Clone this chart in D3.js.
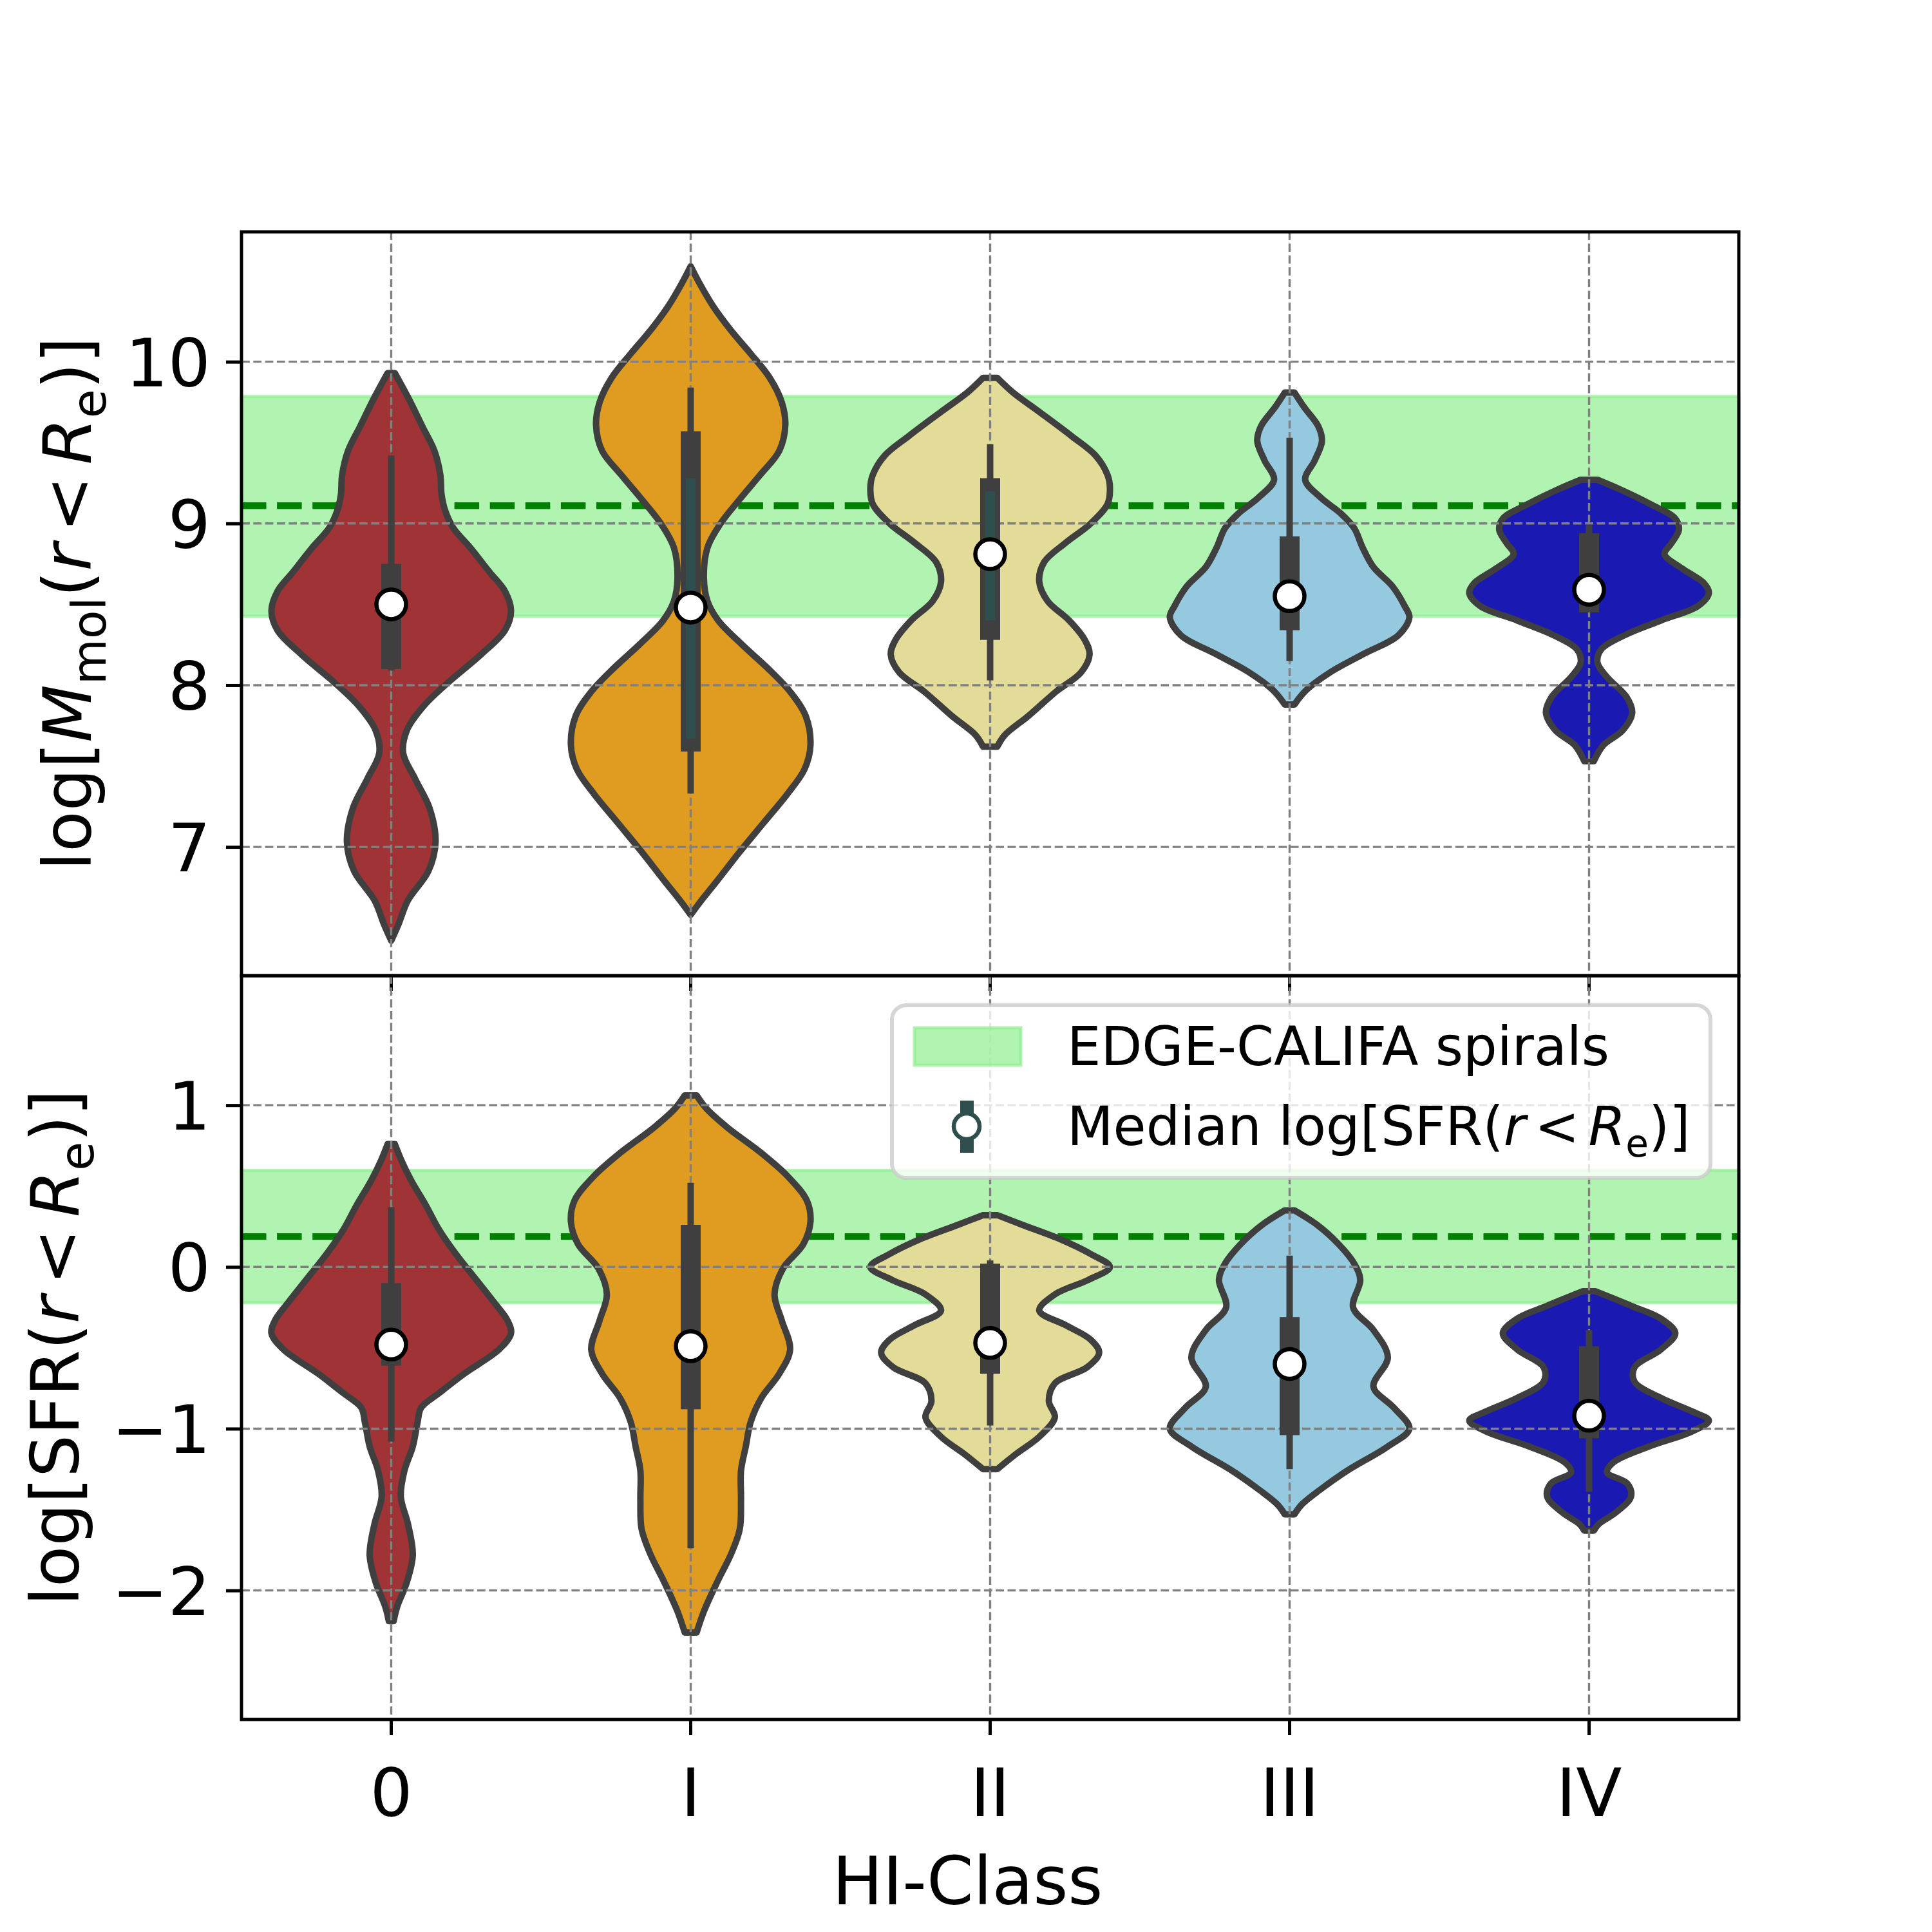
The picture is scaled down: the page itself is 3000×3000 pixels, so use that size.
<!DOCTYPE html>
<html>
<head>
<meta charset="utf-8">
<script src="https://cdn.jsdelivr.net/npm/d3@7"></script>
<style>
  body { margin: 0; background: #fff; }
  text { font-family: "DejaVu Sans", sans-serif; }
</style>
</head>
<body>
<div id="chart"></div>
<script>
// categories and colours
const classes = ["0", "I", "II", "III", "IV"]
const violinColors = ["#9f3335", "#df9c20", "#e3db98", "#94c9df", "#1a1ab3"]

// axis limits and ticks
const molLim = [6.204, 10.803]
const sfrLim = [-2.798, 1.801]
const molTicks = [7, 8, 9, 10]
const sfrTicks = [-2, -1, 0, 1]

// EDGE-CALIFA reference bands
const molBand = [8.427, 9.785]
const molRef = 9.11
const sfrBand = [-0.221, 0.597]
const sfrRef = 0.188

// violin outlines: values and relative half-widths
const molVals = [
  [9.93, 9.78, 9.60, 9.45, 9.30, 9.18, 9.08, 8.97, 8.85, 8.70, 8.58, 8.46, 8.34, 8.19, 8.02, 7.87, 7.72, 7.58, 7.42, 7.24, 7.03, 6.85, 6.67, 6.52, 6.42],
  [10.59, 10.49, 10.34, 10.19, 10.05, 9.90, 9.75, 9.61, 9.45, 9.30, 9.15, 9.00, 8.85, 8.66, 8.52, 8.40, 8.25, 8.10, 7.96, 7.81, 7.63, 7.48, 7.33, 7.15, 6.97, 6.79, 6.67, 6.58],
  [9.90, 9.81, 9.69, 9.54, 9.42, 9.30, 9.22, 9.12, 9.00, 8.88, 8.76, 8.64, 8.52, 8.40, 8.28, 8.19, 8.08, 7.96, 7.81, 7.69, 7.62],
  [9.81, 9.72, 9.60, 9.51, 9.39, 9.27, 9.16, 9.06, 8.97, 8.85, 8.73, 8.61, 8.49, 8.42, 8.31, 8.19, 8.08, 7.97, 7.88],
  [9.27, 9.21, 9.12, 9.03, 8.96, 8.88, 8.81, 8.72, 8.63, 8.57, 8.49, 8.40, 8.31, 8.22, 8.14, 8.05, 7.93, 7.83, 7.72, 7.63, 7.53]
]
const molWidths = [
  [0.03, 0.14, 0.26, 0.36, 0.41, 0.42, 0.45, 0.52, 0.66, 0.82, 0.95, 1.0, 0.95, 0.75, 0.48, 0.27, 0.13, 0.10, 0.20, 0.32, 0.37, 0.31, 0.14, 0.06, 0.0],
  [0.0, 0.07, 0.19, 0.34, 0.50, 0.66, 0.76, 0.79, 0.74, 0.58, 0.41, 0.25, 0.14, 0.11, 0.14, 0.23, 0.43, 0.65, 0.83, 0.96, 1.0, 0.95, 0.81, 0.61, 0.41, 0.22, 0.09, 0.0],
  [0.06, 0.19, 0.41, 0.68, 0.88, 0.98, 1.0, 0.98, 0.84, 0.63, 0.45, 0.41, 0.48, 0.66, 0.79, 0.83, 0.76, 0.55, 0.32, 0.12, 0.06],
  [0.04, 0.12, 0.24, 0.27, 0.21, 0.13, 0.26, 0.43, 0.54, 0.61, 0.70, 0.86, 0.96, 1.0, 0.91, 0.61, 0.34, 0.14, 0.04],
  [0.07, 0.26, 0.51, 0.72, 0.75, 0.69, 0.63, 0.78, 0.96, 1.0, 0.91, 0.60, 0.30, 0.10, 0.07, 0.15, 0.31, 0.36, 0.28, 0.12, 0.04]
]
const sfrVals = [
  [0.76, 0.65, 0.53, 0.38, 0.23, 0.08, -0.07, -0.22, -0.33, -0.41, -0.51, -0.66, -0.78, -0.87, -0.96, -1.11, -1.26, -1.42, -1.59, -1.78, -1.95, -2.10, -2.19],
  [1.06, 0.98, 0.86, 0.71, 0.56, 0.41, 0.28, 0.14, -0.01, -0.17, -0.33, -0.51, -0.66, -0.81, -0.96, -1.11, -1.26, -1.44, -1.62, -1.77, -1.95, -2.13, -2.26],
  [0.32, 0.26, 0.17, 0.08, 0.0, -0.08, -0.17, -0.27, -0.36, -0.45, -0.53, -0.62, -0.72, -0.83, -0.93, -1.05, -1.16, -1.25],
  [0.35, 0.26, 0.14, 0.02, -0.08, -0.25, -0.39, -0.56, -0.74, -0.87, -1.00, -1.11, -1.26, -1.38, -1.47, -1.53],
  [-0.15, -0.24, -0.32, -0.41, -0.51, -0.62, -0.71, -0.81, -0.89, -0.95, -1.02, -1.11, -1.21, -1.27, -1.34, -1.42, -1.52, -1.59, -1.63]
]
const sfrWidths = [
  [0.03, 0.09, 0.17, 0.29, 0.40, 0.54, 0.70, 0.86, 0.97, 1.0, 0.90, 0.61, 0.40, 0.25, 0.22, 0.18, 0.11, 0.08, 0.14, 0.18, 0.13, 0.05, 0.02],
  [0.05, 0.13, 0.31, 0.58, 0.81, 0.97, 1.0, 0.94, 0.77, 0.70, 0.76, 0.83, 0.74, 0.59, 0.50, 0.46, 0.42, 0.42, 0.41, 0.34, 0.22, 0.11, 0.05],
  [0.06, 0.27, 0.59, 0.84, 1.0, 0.82, 0.54, 0.41, 0.63, 0.84, 0.91, 0.81, 0.54, 0.49, 0.54, 0.41, 0.21, 0.06],
  [0.04, 0.23, 0.41, 0.54, 0.59, 0.53, 0.70, 0.82, 0.70, 0.87, 1.0, 0.82, 0.48, 0.25, 0.10, 0.04],
  [0.05, 0.35, 0.60, 0.72, 0.60, 0.38, 0.38, 0.60, 0.85, 1.0, 0.85, 0.50, 0.20, 0.15, 0.32, 0.35, 0.22, 0.08, 0.04]
]

// inner boxes: [lower whisker, q1, q3, upper whisker] and medians
const molBox = [[8.09, 8.10, 8.75, 9.42], [7.33, 7.59, 9.57, 9.84], [8.03, 8.28, 9.28, 9.49], [8.15, 8.34, 8.92, 9.53], [8.45, 8.45, 8.94, 8.99]]
const molMedian = [8.50, 8.48, 8.81, 8.55, 8.59]
const molErr = [null, [7.67, 9.28], [8.40, 9.20], null, null]
const sfrBox = [[-1.08, -0.61, -0.10, 0.37], [-1.74, -0.88, 0.26, 0.52], [-0.98, -0.66, 0.02, 0.04], [-1.25, -1.04, -0.31, 0.07], [-1.39, -1.06, -0.49, -0.39]]
const sfrMedian = [-0.48, -0.49, -0.47, -0.60, -0.92]

const legendLabels = ["EDGE-CALIFA spirals", "Median log[SFR(r < Re)]"]

const width = 3000
const height = 3000
const axL = 375, axR = 2700, axT = 360, axM = 1515, axB = 2670
const edge = "#3f3f3f"
const slate = "#2f4f4f"
const tickFont = 104

var svg = d3.select("#chart")
  .append("svg")
  .attr("width", width)
  .attr("height", height)
svg.append("rect").attr("width", width).attr("height", height).attr("fill", "#fff")

let x = d3.scaleBand().domain(classes).range([axL, axR])
let cx = c => x(c) + x.bandwidth() / 2
let half = x.bandwidth() * 0.4

let yMol = d3.scaleLinear().domain(molLim).range([axM, axT])
let ySfr = d3.scaleLinear().domain(sfrLim).range([axB, axM])

function fmt(d) { return d < 0 ? "\u2212" + Math.abs(d) : "" + d }

function panel(y, ticks, band, ref, vals, widths, boxes, medians, errs, y0, y1, showLabels) {
  let g = svg.append("g")

  // reference band and line
  g.append("rect")
    .attr("x", axL).attr("width", axR - axL)
    .attr("y", y(band[1])).attr("height", y(band[0]) - y(band[1]))
    .attr("fill", "#90ee90").attr("fill-opacity", 0.7)
    .attr("stroke", "#90ee90").attr("stroke-opacity", 0.7).attr("stroke-width", 5)
  g.append("line")
    .attr("x1", axL).attr("x2", axR).attr("y1", y(ref)).attr("y2", y(ref))
    .attr("stroke", "green").attr("stroke-width", 10.4).attr("stroke-dasharray", "38.5,16.6")

  // violins
  classes.forEach((c, i) => {
    let pts = vals[i].map((v, j) => [v, widths[i][j]])
    let area = d3.area()
      .curve(d3.curveCatmullRom.alpha(0.5))
      .y(d => y(d[0]))
      .x0(d => cx(c) - d[1] * half)
      .x1(d => cx(c) + d[1] * half)
    g.append("path").datum(pts)
      .attr("d", area)
      .attr("fill", violinColors[i])
      .attr("stroke", edge).attr("stroke-width", 10).attr("stroke-linejoin", "round")
  })

  // grid
  ticks.forEach(t => {
    g.append("line").attr("x1", axL).attr("x2", axR).attr("y1", y(t)).attr("y2", y(t))
      .attr("stroke", "#808080").attr("stroke-width", 3.4).attr("stroke-dasharray", "12.8,5.5")
  })
  classes.forEach(c => {
    g.append("line").attr("x1", cx(c)).attr("x2", cx(c)).attr("y1", y0).attr("y2", y1)
      .attr("stroke", "#808080").attr("stroke-width", 3.4).attr("stroke-dasharray", "12.8,5.5")
  })

  // inner boxes
  classes.forEach((c, i) => {
    let b = boxes[i]
    g.append("line").attr("x1", cx(c)).attr("x2", cx(c)).attr("y1", y(b[0])).attr("y2", y(b[3]))
      .attr("stroke", edge).attr("stroke-width", 10)
    g.append("rect").attr("x", cx(c) - 15.5).attr("width", 31)
      .attr("y", y(b[2])).attr("height", y(b[1]) - y(b[2]))
      .attr("fill", edge)
    if (errs && errs[i]) {
      g.append("rect").attr("x", cx(c) - 7.5).attr("width", 15)
        .attr("y", y(errs[i][1])).attr("height", y(errs[i][0]) - y(errs[i][1]))
        .attr("fill", slate)
    }
    g.append("circle").attr("cx", cx(c)).attr("cy", y(medians[i])).attr("r", 23)
      .attr("fill", "#fff").attr("stroke", "#000").attr("stroke-width", 6.5)
  })

  // axes
  let ay = g.append("g").attr("transform", "translate(" + axL + ",0)")
    .call(d3.axisLeft(y).tickValues(ticks).tickSize(24).tickPadding(24).tickFormat(fmt))
  ay.select(".domain").remove()
  ay.selectAll("line").attr("stroke", "#000").attr("stroke-width", 5)
  ay.selectAll("text").attr("font-size", tickFont).attr("fill", "#000").attr("dy", "0.36em")
    .attr("font-family", "DejaVu Sans")

  let ax = g.append("g").attr("transform", "translate(0," + y1 + ")")
    .call(d3.axisBottom(x).tickSize(24).tickPadding(24))
  ax.select(".domain").remove()
  ax.selectAll("line").attr("stroke", "#000").attr("stroke-width", 5)
  if (showLabels) {
    ax.selectAll("text").attr("font-size", tickFont).attr("fill", "#000").attr("dy", "0.98em")
      .attr("font-family", "DejaVu Sans")
  } else {
    ax.selectAll("text").remove()
  }

  g.append("rect").attr("x", axL).attr("y", y0).attr("width", axR - axL).attr("height", y1 - y0)
    .attr("fill", "none").attr("stroke", "#000").attr("stroke-width", 5)
}

panel(yMol, molTicks, molBand, molRef, molVals, molWidths, molBox, molMedian, molErr, axT, axM, false)
panel(ySfr, sfrTicks, sfrBand, sfrRef, sfrVals, sfrWidths, sfrBox, sfrMedian, null, axM, axB, true)

// mathtext-like label helper
function rich(sel, parts, size) {
  let sub = false
  parts.forEach(p => {
    let ts = sel.append("tspan").text(p.t)
    if (p.i) ts.attr("font-style", "italic")
    if (p.gap) ts.attr("dx", size * p.gap)
    if (p.sub && !sub) { ts.attr("dy", size * 0.22); sub = true }
    else if (!p.sub && sub) { ts.attr("dy", -size * 0.22); sub = false }
    if (p.sub) ts.attr("font-size", size * 0.7)
  })
}

let molLabel = svg.append("text").attr("transform", "translate(141," + (axT + axM) / 2 + ") rotate(-90)")
  .attr("text-anchor", "middle").attr("font-size", tickFont)
rich(molLabel, [{ t: "log[" }, { t: "M", i: true }, { t: "mol", sub: true }, { t: "(" }, { t: "r", i: true },
  { t: "<", gap: 0.17 }, { t: "R", i: true, gap: 0.17 }, { t: "e", sub: true }, { t: ")]" }], tickFont)

let sfrLabel = svg.append("text").attr("transform", "translate(122," + (axM + axB) / 2 + ") rotate(-90)")
  .attr("text-anchor", "middle").attr("font-size", tickFont)
rich(sfrLabel, [{ t: "log[SFR(" }, { t: "r", i: true }, { t: "<", gap: 0.17 }, { t: "R", i: true, gap: 0.17 },
  { t: "e", sub: true }, { t: ")]" }], tickFont)

svg.append("text").attr("x", (axL + axR) / 2 - 35).attr("y", 2957).attr("text-anchor", "middle")
  .attr("font-size", tickFont).text("HI-Class")

// legend
let lg = svg.append("g")
lg.append("rect").attr("x", 1385).attr("y", 1561).attr("width", 1271).attr("height", 268).attr("rx", 22)
  .attr("fill", "#fff").attr("fill-opacity", 0.8)
  .attr("stroke", "#cccccc").attr("stroke-opacity", 0.8).attr("stroke-width", 6)
lg.append("rect").attr("x", 1420).attr("y", 1596).attr("width", 165).attr("height", 58)
  .attr("fill", "#90ee90").attr("fill-opacity", 0.7)
  .attr("stroke", "#90ee90").attr("stroke-opacity", 0.7).attr("stroke-width", 5)
lg.append("rect").attr("x", 1491).attr("y", 1709).attr("width", 21).attr("height", 81).attr("fill", slate)
lg.append("circle").attr("cx", 1501).attr("cy", 1749).attr("r", 20)
  .attr("fill", "#fff").attr("stroke", slate).attr("stroke-width", 6.5)
lg.append("text").attr("x", 1657).attr("y", 1654).attr("font-size", 83).text(legendLabels[0])
let lt = lg.append("text").attr("x", 1657).attr("y", 1778).attr("font-size", 83)
rich(lt, [{ t: "Median log[SFR(" }, { t: "r", i: true }, { t: "<", gap: 0.17 }, { t: "R", i: true, gap: 0.17 },
  { t: "e", sub: true }, { t: ")]" }], 83)
</script>
</body>
</html>
